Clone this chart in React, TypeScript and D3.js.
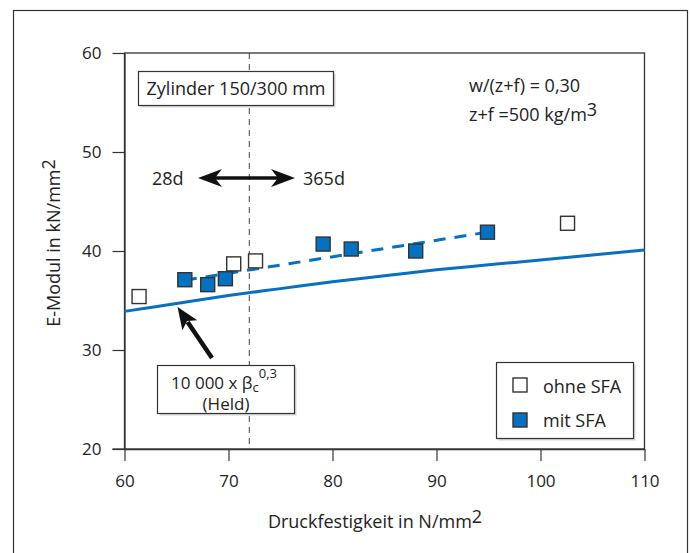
import { useEffect, useRef } from "react"
import * as d3 from "d3"

// Druckfestigkeit (N/mm2) vs. E-Modul (kN/mm2)
const xTicks = [60, 70, 80, 90, 100, 110]
const yTicks = [20, 30, 40, 50, 60]

const ohneSFA: [number, number][] = [
  [61.4, 35.4],
  [70.5, 38.7],
  [72.6, 39.0],
  [102.6, 42.8],
]

const mitSFA: [number, number][] = [
  [65.8, 37.1],
  [68.0, 36.6],
  [69.7, 37.2],
  [79.1, 40.7],
  [81.8, 40.2],
  [88.0, 40.0],
  [94.9, 41.9],
]

// dashed trend through "mit SFA"
const trendMit: [number, number][] = [
  [65.8, 37.05],
  [94.9, 41.9],
]

// Held: 10 000 x beta_c^0.3
const heldCurve: [number, number][] = [
  [60, 33.9],
  [65, 34.7],
  [70, 35.5],
  [75, 36.2],
  [80, 36.9],
  [85, 37.5],
  [90, 38.1],
  [95, 38.6],
  [100, 39.1],
  [105, 39.6],
  [110, 40.1],
]

const ageSplit = 72

const BLUE = "#0870c0"
const FONT = "'Open Sans', 'DejaVu Sans', sans-serif"

export default function App() {
  const svgRef = useRef<SVGSVGElement>(null)

  useEffect(() => {
    if (!svgRef.current) return
    const svg = d3.select(svgRef.current)
    svg.selectAll("*").remove()

    const left = 124.5
    const right = 644.5
    const top = 53
    const bottom = 449

    const x = d3.scaleLinear().domain([60, 110]).range([left, right])
    const y = d3.scaleLinear().domain([20, 60]).range([bottom, top])

    // outer frame
    svg
      .append("rect")
      .attr("x", 13.5)
      .attr("y", 10.5)
      .attr("width", 674)
      .attr("height", 620)
      .attr("fill", "none")
      .attr("stroke", "#333")
      .attr("stroke-width", 1.2)

    // plot box
    svg
      .append("rect")
      .attr("x", left)
      .attr("y", top)
      .attr("width", right - left)
      .attr("height", bottom - top)
      .attr("fill", "none")
      .attr("stroke", "#333")
      .attr("stroke-width", 1.3)

    // axes
    const xAxis = svg
      .append("g")
      .attr("transform", `translate(0,${bottom})`)
      .call(d3.axisBottom(x).tickValues(xTicks).tickSize(12).tickPadding(14).tickSizeOuter(0))
    const yAxis = svg
      .append("g")
      .attr("transform", `translate(${left},0)`)
      .call(d3.axisLeft(y).tickValues(yTicks).tickSize(12).tickPadding(11).tickSizeOuter(0))
    for (const ax of [xAxis, yAxis]) {
      ax.select(".domain").attr("stroke", "#333").attr("stroke-width", 1.3)
      ax.selectAll("line").attr("stroke", "#333").attr("stroke-width", 1.2)
      ax.selectAll("text").attr("font-family", FONT).attr("font-size", 17).attr("fill", "#222")
    }
    // x axis line runs under the y ticks
    svg
      .append("line")
      .attr("x1", left - 12)
      .attr("x2", left)
      .attr("y1", bottom)
      .attr("y2", bottom)
      .attr("stroke", "#333")
      .attr("stroke-width", 1.3)

    // axis titles
    const xt = svg
      .append("text")
      .attr("x", 375)
      .attr("y", 528)
      .attr("text-anchor", "middle")
      .attr("font-family", FONT)
      .attr("font-size", 18)
      .attr("fill", "#222")
    xt.append("tspan").text("Druckfestigkeit in N/mm")
    xt.append("tspan").attr("dy", -5).text("2")

    const yt = svg
      .append("text")
      .attr("transform", "translate(60,243) rotate(-90)")
      .attr("text-anchor", "middle")
      .attr("font-family", FONT)
      .attr("font-size", 18)
      .attr("fill", "#222")
    yt.append("tspan").text("E-Modul in  kN/mm")
    yt.append("tspan").attr("dy", -5).text("2")

    // 28d / 365d split
    svg
      .append("line")
      .attr("x1", x(ageSplit))
      .attr("x2", x(ageSplit))
      .attr("y1", top)
      .attr("y2", bottom)
      .attr("stroke", "#444")
      .attr("stroke-width", 1)
      .attr("stroke-dasharray", "6,5")

    // Held curve
    const line = d3
      .line<[number, number]>()
      .x((d) => x(d[0]))
      .y((d) => y(d[1]))
    svg
      .append("path")
      .datum(heldCurve)
      .attr("d", line.curve(d3.curveMonotoneX))
      .attr("fill", "none")
      .attr("stroke", BLUE)
      .attr("stroke-width", 3)

    // trend mit SFA
    svg
      .append("path")
      .datum(trendMit)
      .attr("d", d3.line<[number, number]>().x((d) => x(d[0])).y((d) => y(d[1])))
      .attr("fill", "none")
      .attr("stroke", BLUE)
      .attr("stroke-width", 3)
      .attr("stroke-dasharray", "12,9")

    const s = 14
    // markers
    svg
      .selectAll(".ohne")
      .data(ohneSFA)
      .enter()
      .append("rect")
      .attr("x", (d) => x(d[0]) - s / 2)
      .attr("y", (d) => y(d[1]) - s / 2)
      .attr("width", s)
      .attr("height", s)
      .attr("fill", "#fff")
      .attr("stroke", "#333")
      .attr("stroke-width", 1.4)
    svg
      .selectAll(".mit")
      .data(mitSFA)
      .enter()
      .append("rect")
      .attr("x", (d) => x(d[0]) - s / 2)
      .attr("y", (d) => y(d[1]) - s / 2)
      .attr("width", s)
      .attr("height", s)
      .attr("fill", BLUE)
      .attr("stroke", "#333")
      .attr("stroke-width", 1.4)

    // boxes with light shadow
    const box = (bx: number, by: number, bw: number, bh: number) => {
      svg
        .append("rect")
        .attr("x", bx + 2)
        .attr("y", by + 2)
        .attr("width", bw)
        .attr("height", bh)
        .attr("fill", "#d6d6d6")
      svg
        .append("rect")
        .attr("x", bx)
        .attr("y", by)
        .attr("width", bw)
        .attr("height", bh)
        .attr("fill", "#fff")
        .attr("stroke", "#333")
        .attr("stroke-width", 1.2)
    }

    const label = (tx: number, ty: number, t: string, anchor = "start", size = 18) =>
      svg
        .append("text")
        .attr("x", tx)
        .attr("y", ty)
        .attr("text-anchor", anchor)
        .attr("font-family", FONT)
        .attr("font-size", size)
        .attr("fill", "#222")
        .text(t)

    box(138.5, 71.5, 195, 34)
    label(236, 95, "Zylinder 150/300 mm", "middle")

    // w/(z+f)
    label(469, 92, "w/(z+f) = 0,30")
    const zf = label(469, 121, "z+f =500 kg/m")
    zf.append("tspan").attr("dy", -5).text("3")

    // 28d <-> 365d
    label(152, 185, "28d")
    label(303, 185, "365d")
    const ay = 178
    svg
      .append("line")
      .attr("x1", 212)
      .attr("x2", 282)
      .attr("y1", ay)
      .attr("y2", ay)
      .attr("stroke", "#111")
      .attr("stroke-width", 3.5)
    svg
      .append("path")
      .attr("d", `M198,${ay} L222,${ay - 9} L215,${ay} L222,${ay + 9} Z`)
      .attr("fill", "#111")
    svg
      .append("path")
      .attr("d", `M295,${ay} L271,${ay - 9} L278,${ay} L271,${ay + 9} Z`)
      .attr("fill", "#111")

    // arrow to Held curve
    const tip = [x(65.1), y(34.75) + 4]
    const tail = [212, 358]
    const ang = Math.atan2(tail[1] - tip[1], tail[0] - tip[0])
    const hl = 22
    const hw = 9
    const bx = tip[0] + Math.cos(ang) * hl
    const by = tip[1] + Math.sin(ang) * hl
    const nx = -Math.sin(ang)
    const ny = Math.cos(ang)
    svg
      .append("line")
      .attr("x1", bx - Math.cos(ang) * 4)
      .attr("y1", by - Math.sin(ang) * 4)
      .attr("x2", tail[0])
      .attr("y2", tail[1])
      .attr("stroke", "#111")
      .attr("stroke-width", 4.5)
    svg
      .append("path")
      .attr(
        "d",
        `M${tip[0]},${tip[1]} L${bx + nx * hw},${by + ny * hw} L${bx - Math.cos(ang) * 5},${by - Math.sin(ang) * 5} L${bx - nx * hw},${by - ny * hw} Z`,
      )
      .attr("fill", "#111")

    // Held formula box
    box(157.5, 365.5, 137, 48)
    const f = label(224, 389, "10 000 x β", "middle", 17)
    f.append("tspan").attr("dy", 3).attr("font-size", 13).text("c")
    f.append("tspan").attr("dy", -14).attr("font-size", 13).text("0,3")
    label(226, 410, "(Held)", "middle", 17)

    // legend
    box(496.5, 362.5, 137, 76)
    svg
      .append("rect")
      .attr("x", 513)
      .attr("y", 378)
      .attr("width", 14)
      .attr("height", 14)
      .attr("fill", "#fff")
      .attr("stroke", "#333")
      .attr("stroke-width", 1.4)
    label(543, 393, "ohne SFA")
    svg
      .append("rect")
      .attr("x", 513)
      .attr("y", 413)
      .attr("width", 14)
      .attr("height", 14)
      .attr("fill", BLUE)
      .attr("stroke", "#333")
      .attr("stroke-width", 1.4)
    label(543, 427, "mit SFA")
  }, [])

  return (
    <svg
      ref={svgRef}
      width={691}
      height={553}
      style={{ position: "absolute", left: 0, top: 0, background: "#fff" }}
    />
  )
}
